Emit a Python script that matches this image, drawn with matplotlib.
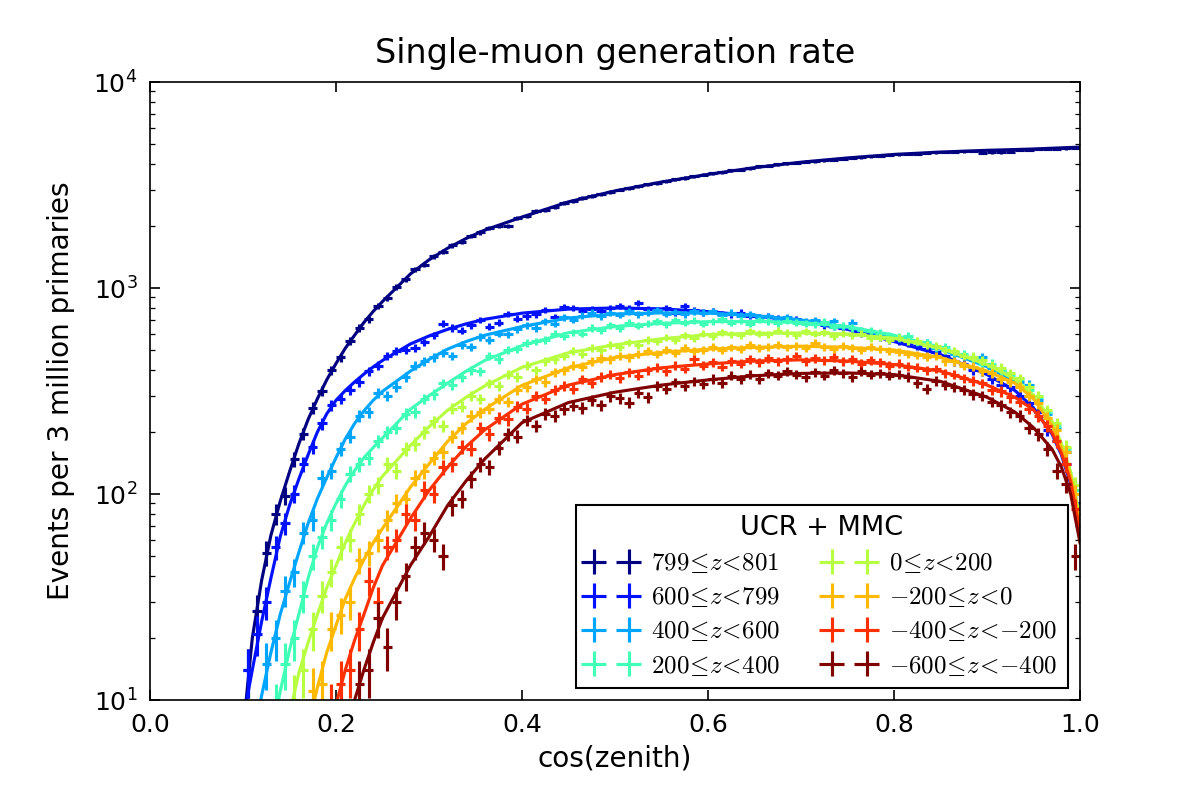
import numpy as np
import matplotlib
matplotlib.use('Agg')
import matplotlib.pyplot as plt

# style close to the old matplotlib look
plt.rcParams['font.family'] = ['DejaVu Sans']
plt.rcParams['font.size'] = 12
plt.rcParams['mathtext.fontset'] = 'cm'
plt.rcParams['xtick.direction'] = 'in'
plt.rcParams['ytick.direction'] = 'in'
plt.rcParams['xtick.top'] = True
plt.rcParams['ytick.right'] = True
plt.rcParams['xtick.major.size'] = 5
plt.rcParams['ytick.major.size'] = 5
plt.rcParams['ytick.minor.size'] = 2.5
plt.rcParams['xtick.major.pad'] = 6
plt.rcParams['ytick.major.pad'] = 6

# series labels (depth bins)
labels = [r'$799\!\leq\! z\!<\!801$', r'$600\!\leq\! z\!<\!799$', r'$400\!\leq\! z\!<\!600$',
          r'$200\!\leq\! z\!<\!400$', r'$0\!\leq\! z\!<\!200$', r'${-}200\!\leq\! z\!<\!0$',
          r'${-}400\!\leq\! z\!<\!{-}200$', r'${-}600\!\leq\! z\!<\!{-}400$']

# first bin centre of each histogram (bins are 0.01 wide)
first_bin = [0.105, 0.105, 0.125, 0.135, 0.155, 0.175, 0.195, 0.225]
bin_halfwidth = 0.005

# histogram counts per series
counts_799 = [14, 27, 52, 80, 98, 148, 196, 262, 318, 400,
              460, 552, 640, 705, 820, 890, 1015, 1100, 1230, 1300,
              1425, 1500, 1610, 1680, 1795, 1860, 1960, 2010, 1990, 2180,
              2245, 2360, 2400, 2480, 2590, 2640, 2735, 2800, 2850, 2920,
              3000, 3050, 3110, 3190, 3230, 3300, 3370, 3420, 3480, 3540,
              3600, 3640, 3720, 3760, 3820, 3900, 3920, 3980, 4040, 4050,
              4100, 4130, 4170, 4200, 4250, 4280, 4310, 4350, 4370, 4430,
              4450, 4480, 4490, 4520, 4550, 4570, 4580, 4600, 4620, 4540,
              4550, 4560, 4570, 4690, 4700, 4720, 4740, 4750, 4770, 4800]
counts_600 = [14, 21, 30, 55, 72, 100, 140, 170, 220, 270,
              290, 320, 350, 395, 420, 470, 495, 500, 510, 545,
              590, 670, 640, 620, 660, 700, 650, 680, 750, 710,
              730, 745, 780, 720, 810, 800, 775, 790, 770, 800,
              815, 800, 845, 790, 785, 800, 760, 815, 780, 760,
              775, 750, 745, 760, 735, 720, 730, 710, 700, 705,
              680, 690, 660, 650, 640, 630, 605, 600, 580, 560,
              555, 540, 525, 505, 490, 470, 440, 430, 400, 395,
              360, 340, 330, 300, 275, 250, 205, 180, 140, 90]
counts_400 = [15, 20, 34, 42, 65, 75, 120, 130, 165, 190,
              240, 250, 310, 300, 330, 370, 420, 440, 460, 485,
              470, 530, 520, 580, 560, 600, 595, 630, 660, 640,
              690, 670, 720, 700, 735, 760, 730, 755, 740, 770,
              745, 760, 780, 750, 765, 745, 770, 760, 775, 740,
              760, 735, 745, 720, 730, 705, 720, 700, 690, 700,
              675, 690, 650, 680, 625, 615, 600, 580, 570, 560,
              545, 540, 510, 500, 480, 470, 460, 460, 410, 395,
              360, 350, 340, 285, 245, 210, 160, 100]
counts_200 = [9, 15, 20, 32, 50, 62, 75, 95, 125, 140,
              150, 180, 200, 210, 245, 250, 290, 305, 345, 340,
              370, 400, 395, 470, 450, 500, 505, 540, 550, 560,
              600, 585, 610, 600, 640, 625, 660, 640, 680, 655,
              670, 690, 665, 700, 680, 695, 670, 690, 705, 680,
              695, 670, 700, 690, 675, 695, 680, 670, 665, 685,
              650, 655, 640, 625, 620, 605, 590, 580, 585, 550,
              545, 520, 520, 490, 480, 455, 430, 430, 400, 380,
              360, 320, 295, 250, 215, 165, 105]
counts_0 = [10, 14, 22, 32, 42, 55, 60, 80, 100, 110,
            140, 130, 165, 175, 200, 225, 215, 260, 265, 300,
            290, 345, 335, 380, 370, 420, 400, 440, 450, 470,
            495, 480, 510, 500, 530, 515, 545, 530, 560, 550,
            575, 560, 590, 570, 600, 585, 610, 595, 590, 615,
            600, 595, 620, 605, 590, 615, 600, 610, 585, 600,
            590, 600, 570, 575, 560, 575, 550, 555, 530, 525,
            500, 495, 470, 465, 445, 420, 410, 385, 365, 330,
            300, 255, 220, 170, 110]
counts_m200 = [11, 12, 22, 26, 30, 48, 52, 60, 75, 90,
               95, 120, 130, 150, 160, 190, 210, 240, 250, 260,
               290, 280, 320, 330, 360, 350, 390, 400, 420, 415,
               440, 455, 450, 470, 460, 480, 495, 480, 500, 485,
               510, 495, 500, 520, 500, 515, 505, 530, 510, 520,
               530, 515, 525, 510, 540, 520, 505, 525, 510, 500,
               520, 505, 495, 490, 480, 475, 465, 470, 440, 440,
               420, 415, 395, 385, 360, 350, 330, 300, 275, 235,
               205, 160, 100]
counts_m400 = [9, 12, 14, 22, 38, 30, 55, 60, 80, 75,
               105, 100, 135, 140, 170, 165, 210, 195, 235, 230,
               265, 260, 300, 290, 320, 335, 325, 360, 345, 370,
               380, 365, 390, 375, 400, 410, 395, 420, 405, 450,
               420, 435, 415, 440, 430, 450, 435, 455, 440, 450,
               470, 440, 455, 445, 460, 440, 450, 430, 445, 435,
               420, 430, 415, 410, 400, 405, 385, 380, 365, 355,
               345, 320, 315, 295, 280, 260, 240, 215, 180, 140,
               85]
counts_m600 = [12, 14, 25, 18, 30, 40, 55, 65, 60, 50,
               88, 95, 118, 140, 135, 168, 195, 190, 228, 215,
               245, 240, 258, 268, 262, 285, 270, 298, 292, 278,
               310, 295, 335, 325, 348, 333, 352, 342, 362, 347,
               375, 360, 380, 360, 385, 375, 395, 380, 370, 390,
               375, 400, 385, 370, 395, 380, 385, 375, 380, 370,
               345, 325, 355, 340, 330, 320, 305, 300, 280, 270,
               250, 240, 210, 195, 165, 130, 112, 50]
all_counts = [counts_799, counts_600, counts_400, counts_200,
              counts_0, counts_m200, counts_m400, counts_m600]

# fitted curves, sampled at these cos(zenith) values
fit_x = [0.10, 0.11, 0.12, 0.13, 0.14, 0.15, 0.16, 0.17, 0.18, 0.19,
         0.20, 0.21, 0.22, 0.23, 0.24, 0.25, 0.28, 0.30, 0.32, 0.34,
         0.36, 0.40, 0.45, 0.50, 0.55, 0.60, 0.65, 0.70, 0.75, 0.80,
         0.85, 0.90, 0.93, 0.95, 0.97, 0.98, 0.99, 1.00]
fit_799 = [7, 20, 38, 63, 92, 128, 175, 230, 290, 358,
           430, 510, 590, 680, 770, 860, 1170, 1370, 1560, 1740,
           1910, 2210, 2620, 2960, 3270, 3560, 3840, 4080, 4280, 4450,
           4570, 4660, 4700, 4730, 4770, 4790, 4810, 4830]
fit_600 = [8, 14, 24, 39, 62, 88, 118, 155, 200, 245,
           285, 318, 350, 382, 414, 445, 535, 585, 630, 670,
           705, 755, 790, 800, 792, 768, 733, 690, 630, 550,
           475, 380, 318, 262, 195, 155, 112, 65]
fit_400 = [3.5, 6, 10.5, 17, 26, 37, 52, 72, 95, 120,
           150, 185, 220, 253, 285, 315, 395, 450, 505, 550,
           590, 650, 715, 748, 757, 755, 735, 700, 645, 575,
           505, 415, 350, 296, 220, 172, 125, 75]
fit_200 = [1.2, 2.2, 3.8, 6.5, 11, 17.5, 26, 39, 55, 72,
           90, 110, 130, 150, 168, 187, 258, 300, 345, 395,
           445, 525, 607, 650, 674, 686, 688, 680, 650, 590,
           515, 425, 360, 300, 222, 174, 126, 75]
fit_0 = [0.5, 0.9, 1.5, 2.8, 5, 8.5, 13.5, 19, 26, 35,
         45, 58, 72, 88, 105, 122, 172, 212, 255, 295,
         335, 412, 485, 530, 567, 594, 603, 605, 598, 570,
         510, 425, 362, 302, 225, 176, 128, 76]
fit_m200 = [0.3, 0.5, 0.8, 1.2, 1.9, 2.9, 4.5, 7.5, 11.5, 17,
            23, 31, 39, 48, 58, 68, 108, 140, 180, 220,
            258, 337, 410, 460, 487, 505, 515, 522, 515, 500,
            460, 395, 345, 290, 215, 168, 122, 72]
fit_m400 = [0.1, 0.2, 0.3, 0.5, 0.8, 1.3, 2, 3, 4, 6,
            9.5, 14, 19.5, 26, 35, 45, 76, 104, 135, 170,
            205, 273, 338, 380, 410, 428, 442, 448, 442, 425,
            395, 338, 295, 256, 198, 158, 115, 66]
fit_m600 = [0.05, 0.08, 0.12, 0.2, 0.3, 0.5, 0.8, 1.2, 2, 3,
            4.8, 7, 10, 14, 19, 25, 45, 62, 88, 116,
            148, 222, 278, 312, 338, 358, 375, 385, 387, 380,
            352, 295, 250, 210, 165, 135, 100, 58]
all_fits = [fit_799, fit_600, fit_400, fit_200,
            fit_0, fit_m200, fit_m400, fit_m600]

colors = plt.cm.jet(np.linspace(0, 1, len(labels)))

fig = plt.figure(figsize=(8, 16 / 3), dpi=150)
ax = fig.add_axes([0.125, 0.125, 0.775, 0.7725])

for label, start, counts, fit, color in zip(labels, first_bin, all_counts, all_fits, colors):
    counts = np.array(counts, dtype=float)
    centres = start + 0.01 * np.arange(len(counts))
    # poisson errors on each bin
    ax.errorbar(centres, counts, xerr=bin_halfwidth, yerr=np.sqrt(counts),
                fmt='none', ecolor=color, elinewidth=1.5, capsize=0, label=label)
    ax.plot(fit_x, fit, color=color, lw=1.5)

ax.set_yscale('log')
ax.set_xlim(0, 1)
ax.set_ylim(10, 1e4)
ax.tick_params(which='both', direction='in', top=True, right=True)

ax.set_title('Single-muon generation rate', fontsize=16, pad=9)
ax.set_xlabel('cos(zenith)', fontsize=13.4)
ax.set_ylabel('Events per 3 million primaries', fontsize=13.4, labelpad=9)

leg = ax.legend(loc='lower right', ncol=2, title='UCR + MMC', numpoints=2,
                fontsize=12, title_fontsize=13, fancybox=False, framealpha=1,
                edgecolor='black', borderaxespad=0.5, labelspacing=0.4,
                handletextpad=0.6, columnspacing=1.75)
leg.get_frame().set_linewidth(1.0)

plt.savefig('out.png')
